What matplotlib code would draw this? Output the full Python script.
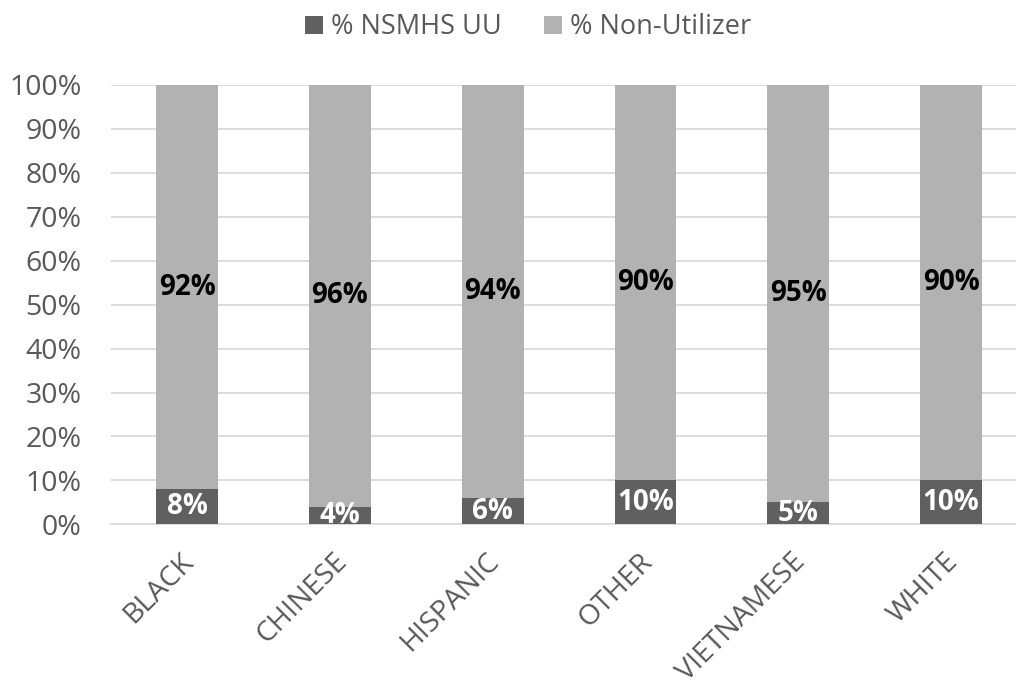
import matplotlib.pyplot as plt
import matplotlib.transforms as mtransforms
import numpy as np

import matplotlib
matplotlib.rcParams['font.family'] = ['Open Sans', 'DejaVu Sans']

# 数据
groups = ["BLACK", "CHINESE", "HISPANIC", "OTHER", "VIETNAMESE", "WHITE"]
uu_pct = [8, 4, 6, 10, 5, 10]
non_pct = [92, 96, 94, 90, 95, 90]

dark = '#606060'
light = '#b2b2b2'
txt = '#595959'

fig = plt.figure(figsize=(10.16, 6.81), dpi=100)
ax = fig.add_axes([0.1089, 0.2301, 0.9024, 0.6451])

x = np.arange(len(groups))
b1 = ax.bar(x, uu_pct, width=0.405, color=dark, label='% NSMHS UU', zorder=3)
b2 = ax.bar(x, non_pct, width=0.405, bottom=uu_pct, color=light, label='% Non-Utilizer', zorder=3)

for i in range(len(groups)):
    ax.text(x[i], uu_pct[i] / 2, f'{uu_pct[i]}%', ha='center', va='center',
            color='white', fontsize=20, fontweight='bold', zorder=4)
    ax.text(x[i], uu_pct[i] + non_pct[i] / 2, f'{non_pct[i]}%', ha='center', va='center',
            color='black', fontsize=20, fontweight='bold', zorder=4)

ax.set_xlim(-0.5, len(groups) - 0.5)
ax.set_ylim(0, 100)
ax.set_yticks(range(0, 101, 10))
ax.set_yticklabels([f'{v}%' for v in range(0, 101, 10)])
ax.set_xticks(x)
ax.set_xticklabels([])

# 斜排类别标签，手动放置
offset = mtransforms.ScaledTranslation(2 / 72, -24 / 72, fig.dpi_scale_trans)
for i, g in enumerate(groups):
    ax.text(x[i], 0, g, transform=ax.get_xaxis_transform() + offset,
            rotation=45, rotation_mode='anchor', ha='right', va='center',
            fontsize=20.5, color=txt, clip_on=False)

ax.tick_params(axis='both', length=0, labelsize=20.5, colors=txt)
ax.tick_params(axis='y', pad=21)
ax.grid(axis='y', color='#d9d9d9', linewidth=1.3, zorder=0)
for s in ['top', 'right', 'left']:
    ax.spines[s].set_visible(False)
ax.spines['bottom'].set_color('#d9d9d9')
ax.spines['bottom'].set_linewidth(1.3)

fig.legend(handles=[b1, b2], loc='center', bbox_to_anchor=(0.52, 0.96), ncol=2,
           frameon=False, fontsize=19.5, labelcolor=txt, handlelength=0.67, handleheight=0.67,
           handletextpad=0.3, columnspacing=1.55)

plt.savefig('out.png', dpi=100)
plt.close()
